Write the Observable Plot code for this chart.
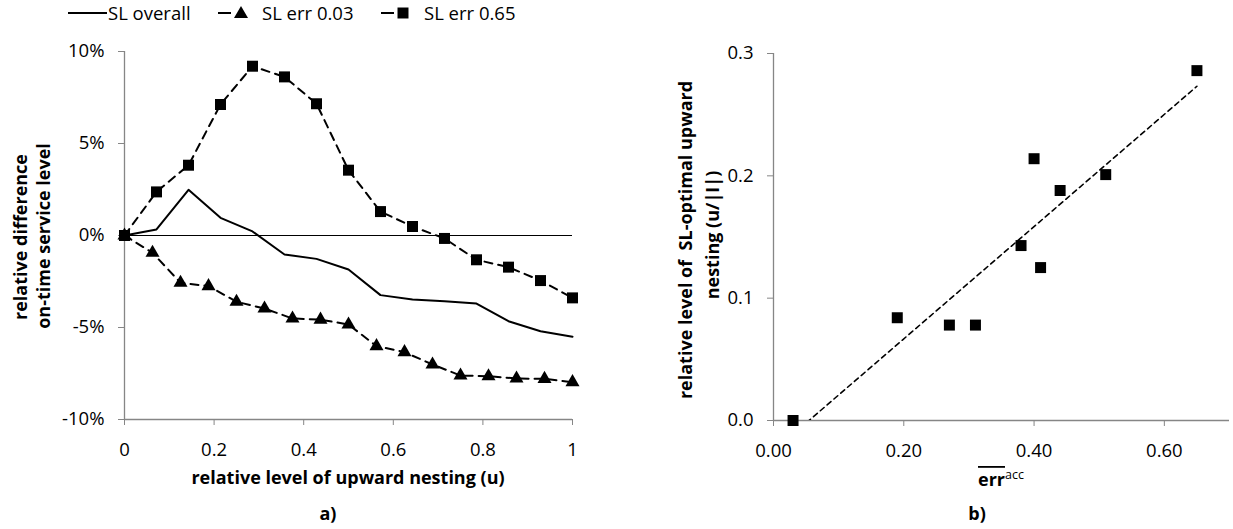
<!DOCTYPE html>
<html>
<head>
<meta charset="utf-8">
<script src="https://cdn.jsdelivr.net/npm/d3@7"></script>
<script src="https://cdn.jsdelivr.net/npm/@observablehq/plot@0.6"></script>
<style>
  html, body { margin: 0; padding: 0; background: #fff; }
  #root { position: relative; width: 1233px; height: 529px; overflow: hidden; background: #fff; }
  #root > svg, #root > figure { position: absolute; top: 0; margin: 0; }
  #overlay { left: 0; pointer-events: none; }
  #overlay text { font-family: "Open Sans", sans-serif; fill: #000; white-space: pre; }
</style>
</head>
<body>
<div id="root"></div>
<script>
// ---------------- data ----------------
// panel a) x positions
const u14 = [0, 0.0714, 0.1429, 0.2143, 0.2857, 0.3571, 0.4286, 0.5, 0.5714, 0.6429, 0.7143, 0.7857, 0.8571, 0.9286, 1];
const u16 = [0, 0.0625, 0.125, 0.1875, 0.25, 0.3125, 0.375, 0.4375, 0.5, 0.5625, 0.625, 0.6875, 0.75, 0.8125, 0.875, 0.9375, 1];
// panel a) series values (percent)
const slOverall = [0, 0.33, 2.48, 0.96, 0.22, -1.03, -1.27, -1.85, -3.24, -3.48, -3.57, -3.70, -4.66, -5.20, -5.50];
const slErr003  = [0, -0.94, -2.57, -2.75, -3.60, -3.97, -4.51, -4.57, -4.84, -6.01, -6.34, -7.01, -7.61, -7.65, -7.77, -7.79, -7.97];
const slErr065  = [0, 2.37, 3.82, 7.12, 9.20, 8.62, 7.16, 3.55, 1.30, 0.49, -0.16, -1.32, -1.72, -2.45, -3.39];
const seriesNames = ["SL overall", "SL err 0.03", "SL err 0.65"];
const yTicksA = [-10, -5, 0, 5, 10];
const xTicksA = [0, 0.2, 0.4, 0.6, 0.8, 1];
// panel b)
const errAcc    = [0.03, 0.19, 0.27, 0.31, 0.38, 0.40, 0.41, 0.44, 0.51, 0.65];
const slOptimal = [0.000, 0.084, 0.078, 0.078, 0.143, 0.214, 0.125, 0.188, 0.201, 0.286];
const xTicksB = [0, 0.2, 0.4, 0.6];
const yTicksB = [0, 0.1, 0.2, 0.3];

// ---------------- tables ----------------
const overall = u14.map((u, i) => ({u, v: slOverall[i]}));
const err003  = u16.map((u, i) => ({u, v: slErr003[i]}));
const err065  = u14.map((u, i) => ({u, v: slErr065[i]}));
const pts     = errAcc.map((e, i) => ({e, s: slOptimal[i]}));

const FONT = '"Open Sans", sans-serif';
const AXIS_GRAY = "#868686";
const R_TRI = 5.2, R_SQ = 6.2;
const TICK_FS = 18.5, TITLE_FS = 18;

const root = document.getElementById("root");

// ---------------- panel a ----------------
const plotA = Plot.plot({
  width: 600, height: 470,
  marginLeft: 124, marginRight: 28, marginTop: 51, marginBottom: 51,
  style: {fontFamily: FONT, fontSize: TICK_FS + "px", color: "#000", background: "transparent", overflow: "visible"},
  x: {domain: [0, 1]},
  y: {domain: [-10, 10]},
  marks: [
    Plot.ruleX([0], {stroke: AXIS_GRAY, strokeWidth: 1.3}),
    Plot.ruleY([-10], {stroke: AXIS_GRAY, strokeWidth: 1.3}),
    Plot.ruleY([0], {stroke: "#000", strokeWidth: 1}),
    Plot.axisY({ticks: yTicksA, tickFormat: d => d + "%", tickSize: 6, tickPadding: 14, stroke: AXIS_GRAY, label: null}),
    Plot.axisX({ticks: xTicksA, tickFormat: d => String(d), tickSize: 6, tickPadding: 17, stroke: AXIS_GRAY, label: null}),
    Plot.line(err003, {x: "u", y: "v", stroke: "#000", strokeWidth: 2, strokeDasharray: "8,6"}),
    Plot.dot(err003, {x: "u", y: "v", symbol: "triangle", r: R_TRI, fill: "#000", stroke: "none"}),
    Plot.line(overall, {x: "u", y: "v", stroke: "#000", strokeWidth: 2}),
    Plot.line(err065, {x: "u", y: "v", stroke: "#000", strokeWidth: 2, strokeDasharray: "8,6"}),
    Plot.dot(err065, {x: "u", y: "v", symbol: "square", r: R_SQ, fill: "#000", stroke: "none"})
  ]
});
plotA.style.left = "0px";
root.appendChild(plotA);

// ---------------- panel b ----------------
const plotB = Plot.plot({
  width: 593, height: 470,
  marginLeft: 133, marginRight: 4, marginTop: 53, marginBottom: 50,
  style: {fontFamily: FONT, fontSize: TICK_FS + "px", color: "#000", background: "transparent", overflow: "visible"},
  x: {domain: [0, 0.7]},
  y: {domain: [0, 0.3]},
  marks: [
    Plot.ruleX([0], {stroke: AXIS_GRAY, strokeWidth: 1.3}),
    Plot.ruleY([0], {stroke: AXIS_GRAY, strokeWidth: 1.3}),
    Plot.axisY({ticks: yTicksB, tickFormat: d => d.toFixed(1), tickSize: 6, tickPadding: 14, stroke: AXIS_GRAY, label: null}),
    Plot.axisX({ticks: xTicksB, tickFormat: d => d.toFixed(2), tickSize: 6, tickPadding: 17, stroke: AXIS_GRAY, label: null}),
    Plot.linearRegressionY(pts, {x: "e", y: "s", ci: 0, stroke: "#000", strokeWidth: 1.6, strokeDasharray: "5,4", clip: true}),
    Plot.dot(pts, {x: "e", y: "s", symbol: "square", r: R_SQ, fill: "#000", stroke: "none"})
  ]
});
plotB.style.left = "640px";
root.appendChild(plotB);

// ---------------- overlay: legend, axis titles, captions ----------------
const ov = d3.select(root).append("svg")
  .attr("id", "overlay").attr("width", 1233).attr("height", 529);

// legend
const lg = ov.append("g");
lg.append("line").attr("x1", 68).attr("x2", 107).attr("y1", 13).attr("y2", 13).attr("stroke", "#000").attr("stroke-width", 2);
lg.append("text").attr("x", 108).attr("y", 19.5).attr("font-size", TICK_FS).text(seriesNames[0]);
lg.append("line").attr("x1", 218).attr("x2", 231).attr("y1", 13).attr("y2", 13).attr("stroke", "#000").attr("stroke-width", 2);
lg.append("path").attr("transform", "translate(241,14)").attr("d", d3.symbol(d3.symbolTriangle, Math.PI * R_TRI * R_TRI)());
lg.append("text").attr("x", 262).attr("y", 19.5).attr("font-size", TICK_FS).text(seriesNames[1]);
lg.append("line").attr("x1", 381).attr("x2", 394).attr("y1", 13).attr("y2", 13).attr("stroke", "#000").attr("stroke-width", 2);
lg.append("path").attr("transform", "translate(403,13)").attr("d", d3.symbol(d3.symbolSquare, Math.PI * R_SQ * R_SQ)());
lg.append("text").attr("x", 424).attr("y", 19.5).attr("font-size", TICK_FS).text(seriesNames[2]);

// panel a titles
ov.append("text").attr("x", 348).attr("y", 484).attr("text-anchor", "middle").attr("font-size", TITLE_FS).attr("font-weight", 700)
  .text("relative level of upward nesting (u)");
ov.append("text").attr("transform", "translate(27,237) rotate(-90)").attr("text-anchor", "middle").attr("font-size", TITLE_FS).attr("font-weight", 700)
  .text("relative difference");
ov.append("text").attr("transform", "translate(50,236) rotate(-90)").attr("text-anchor", "middle").attr("font-size", TITLE_FS).attr("font-weight", 700)
  .text("on-time service level");
ov.append("text").attr("x", 328).attr("y", 520).attr("text-anchor", "middle").attr("font-size", TITLE_FS).attr("font-weight", 700).text("a)");

// panel b titles
ov.append("text").attr("transform", "translate(692,240) rotate(-90)").attr("text-anchor", "middle").attr("font-size", TITLE_FS).attr("font-weight", 700)
  .text("relative level of  SL-optimal upward");
ov.append("text").attr("transform", "translate(719,235) rotate(-90)").attr("text-anchor", "middle").attr("font-size", TITLE_FS).attr("font-weight", 700)
  .text("nesting (u/|I|)");
const xt = ov.append("text").attr("x", 978).attr("y", 486).attr("font-size", TITLE_FS).attr("font-weight", 700);
xt.append("tspan").style("text-decoration", "overline").text("err");
xt.append("tspan").attr("dy", -7).attr("font-size", 12.5).attr("font-weight", 400).text("acc");
ov.append("text").attr("x", 977).attr("y", 520).attr("text-anchor", "middle").attr("font-size", TITLE_FS).attr("font-weight", 700).text("b)");
</script>
</body>
</html>
